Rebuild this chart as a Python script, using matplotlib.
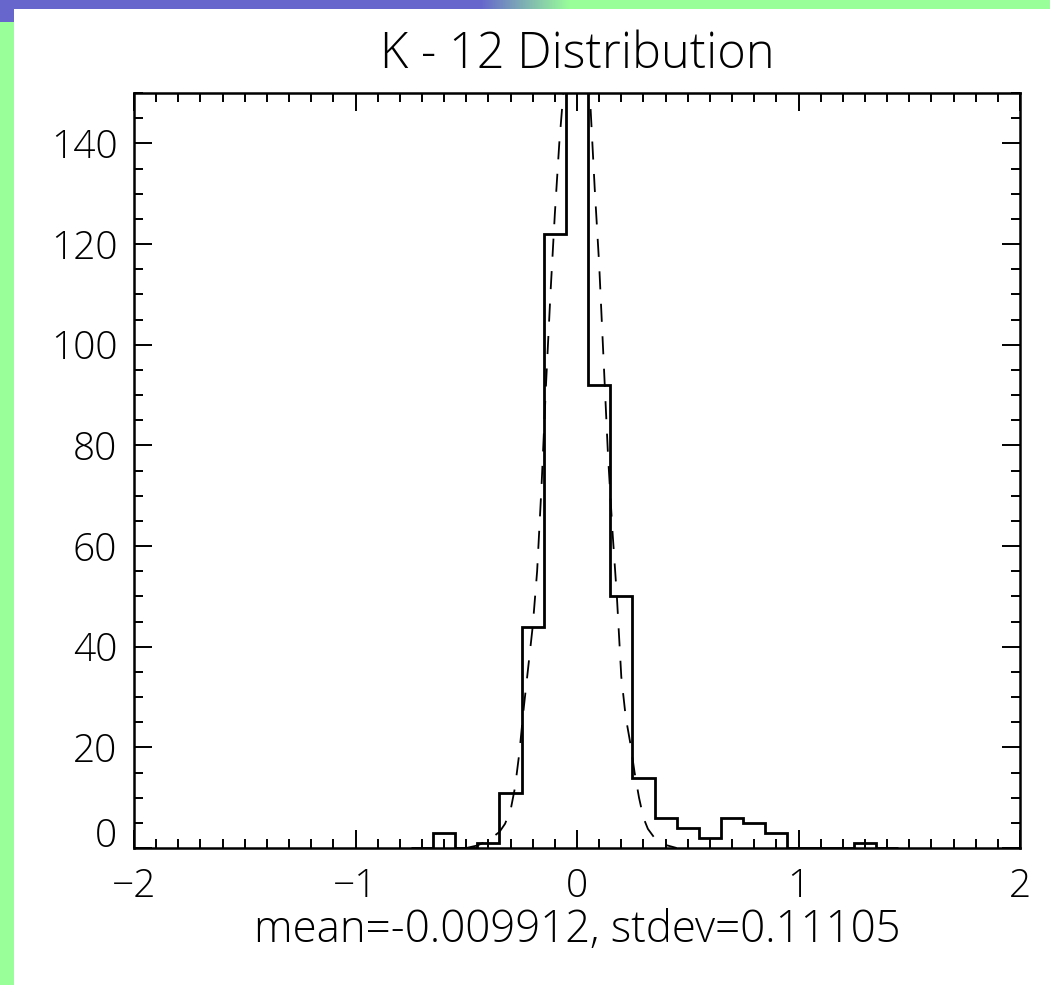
import matplotlib
matplotlib.use("Agg")
import matplotlib.pyplot as plt
import numpy as np
from matplotlib.patches import Rectangle
from matplotlib.ticker import MultipleLocator, FixedLocator
from matplotlib.transforms import ScaledTranslation

# ---------------- data ----------------
title_text = "K - 12 Distribution"
xlabel_text = "mean=-0.009912, stdev=0.11105"

bin_width = 0.1
bin_centers = [-0.7, -0.6, -0.5, -0.4, -0.3, -0.2, -0.1, 0.0, 0.1, 0.2, 0.3,
               0.4, 0.5, 0.6, 0.7, 0.8, 0.9, 1.0, 1.1, 1.2, 1.3, 1.4]
counts = [0, 3, 0, 1, 11, 44, 122, 170, 92, 50, 14,
          6, 4, 2, 6, 5, 3, 0, 0, 0, 1, 0]

# dashed fitted curve
fit_x = [-0.50, -0.45, -0.40, -0.35, -0.325, -0.30, -0.28, -0.26, -0.24, -0.22,
         -0.20, -0.18, -0.16, -0.14, -0.12, -0.10, -0.08, -0.06, -0.04, -0.02,
         0.00, 0.02, 0.04, 0.06, 0.08, 0.10, 0.12, 0.14, 0.16, 0.18, 0.20,
         0.22, 0.24, 0.26, 0.28, 0.30, 0.32, 0.35, 0.40, 0.45]
fit_y = [0.0, 0.5, 1.5, 3.2, 4.8, 7.5, 12, 19, 28, 36,
         44, 55, 72, 92, 110, 126, 140, 151, 159, 163,
         164, 162, 157, 148, 131, 116, 97, 78, 63, 50, 34,
         26, 21, 15, 10, 6, 3.8, 2.0, 0.6, 0.0]

x_ticks = [-2, -1, 0, 1, 2]
y_ticks = [0, 20, 40, 60, 80, 100, 120, 140]

# ---------------- figure ----------------
W, H = 1050, 985
fig = plt.figure(figsize=(W / 100, H / 100), dpi=100)
fig.patch.set_facecolor("white")
green = "#99FF99"
blue = "#6666CC"

# slide decoration: left green strip, top band with blue -> green gradient, blue corner
fig.add_artist(Rectangle((0, 0), 14 / W, 1, transform=fig.transFigure,
                         facecolor=green, edgecolor="none", zorder=0))
band_ax = fig.add_axes([0, 1 - 9 / H, 1, 9 / H])
band_ax.set_axis_off()
xs = np.arange(W)
t = np.clip((xs - 480) / 90.0, 0, 1)
c_blue = np.array([0x66, 0x66, 0xCC]) / 255
c_green = np.array([0x99, 0xFF, 0x99]) / 255
grad = (1 - t)[:, None] * c_blue + t[:, None] * c_green
band_ax.imshow(grad[None, :, :], aspect="auto", extent=[0, 1, 0, 1])
fig.add_artist(Rectangle((0, 1 - 22 / H), 14 / W, 22 / H, transform=fig.transFigure,
                         facecolor=blue, edgecolor="none", zorder=1))

font = ["Open Sans", "DejaVu Sans"]
fw = "light"

ax = fig.add_axes([134 / W, (H - 848) / H, 886 / W, 755 / H])
edges = [c - bin_width / 2 for c in bin_centers] + [bin_centers[-1] + bin_width / 2]
ax.stairs(counts, edges, color="black", linewidth=2.0, baseline=0)
ax.plot(fit_x, fit_y, color="black", linewidth=1.3, linestyle=(0, (10, 8)))

ax.set_xlim(-2, 2)
ax.set_ylim(0, 150)
ax.xaxis.set_major_locator(FixedLocator(x_ticks))
ax.xaxis.set_minor_locator(MultipleLocator(0.1))
ax.yaxis.set_major_locator(FixedLocator(y_ticks))
ax.yaxis.set_minor_locator(MultipleLocator(5))
ax.tick_params(which="both", direction="in", top=True, right=True,
               width=1.4, color="black")
ax.tick_params(which="major", length=13)
ax.tick_params(which="minor", length=6.5)
ax.tick_params(axis="y", which="major", pad=12)
ax.tick_params(axis="x", which="major", pad=14)
for s in ax.spines.values():
    s.set_linewidth(1.8)

ax.set_xticklabels([f"{v}".replace("-", "\u2212") for v in x_ticks],
                   fontsize=28, family=font, fontweight=fw)
ax.set_yticklabels([str(v) for v in y_ticks], fontsize=28, family=font, fontweight=fw)
# the zero label sits a little higher than its tick
lab0 = ax.get_yticklabels()[0]
lab0.set_transform(lab0.get_transform() + ScaledTranslation(0, 16 / 100, fig.dpi_scale_trans))

ax.set_title(title_text, fontsize=35, family=font, fontweight=fw, pad=18)
ax.set_xlabel(xlabel_text, fontsize=31.5, family=font, fontweight=fw, labelpad=2)

fig.savefig("out.png", dpi=100, facecolor=fig.get_facecolor())
